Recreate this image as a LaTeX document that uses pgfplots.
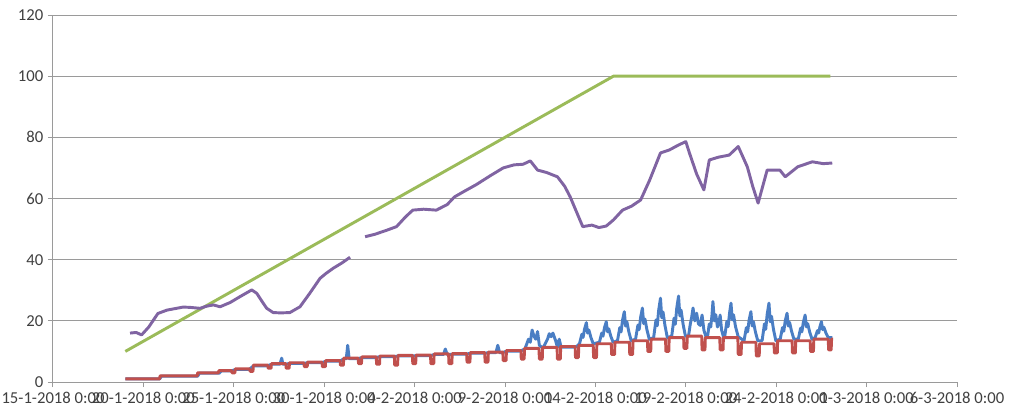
\documentclass[border=0pt]{standalone}
\usepackage{fontspec}
\setmainfont{Carlito}
\usepackage{pgfplots}
\pgfplotsset{compat=1.18}
\definecolor{exblue}{HTML}{4A7EC4}
\definecolor{exred}{HTML}{C0504D}
\definecolor{exgreen}{HTML}{9BBB59}
\definecolor{expurple}{HTML}{8064A2}
\definecolor{gridc}{HTML}{9A9A9A}
\definecolor{txt}{HTML}{404040}

\begin{document}
\begin{tikzpicture}
\begin{axis}[
    at={(0,0)}, anchor=south west,
    scale only axis,
    width=678pt, height=275.25pt,
    xmin=0, xmax=50, ymin=0, ymax=120,
    axis x line*=bottom, axis y line*=left,
    axis line style={gridc, line width=0.75pt},
    xtick={0,5,...,50},
    xticklabels={15-1-2018 0:00,20-1-2018 0:00,25-1-2018 0:00,30-1-2018 0:00,4-2-2018 0:00,9-2-2018 0:00,14-2-2018 0:00,19-2-2018 0:00,24-2-2018 0:00,1-3-2018 0:00,6-3-2018 0:00},
    ytick={0,20,...,120},
    ymajorgrids,
    grid style={gridc, line width=0.75pt},
    tick align=outside,
    major tick length=3.75pt,
    tick style={gridc, line width=0.75pt},
    ticklabel style={font=\fontsize{12.5pt}{14pt}\selectfont, text=txt},
    /pgf/number format/assume math mode=true,
    clip=false,
]
% blue
\addplot[exblue, line width=2.2pt, line join=round] coordinates {
(4,1) (5.9,1) (6,1.9) (8,1.9) (8.1,2.9) (9.2,2.9) (9.3,3.6) (9.85,3.6)
(10.1,4.1) (10.85,4.1) (11.1,5.3) (11.85,5.3) (12.1,5.8) (12.55,5.8) (12.65,7.8) (12.72,5.8) (12.85,5.8)
(13.1,6.1) (13.85,6.1) (14.1,6.3) (14.85,6.3) (15.1,6.8) (15.85,6.8) (16.1,7.6) (16.22,7.6) (16.3,12) (16.38,7.6) (16.85,7.6)
(17.1,8) (17.85,8) (18.1,8.3) (18.85,8.3) (19.1,8.5) (19.85,8.5) (20.1,8.6) (20.85,8.6) (21.1,9) (21.6,9) (21.7,10.8) (21.8,9) (21.85,9)
(22.1,9.1) (22.85,9.1) (23.1,9.4) (23.85,9.4) (24.1,9.6) (24.5,9.6) (24.6,12) (24.7,9.6) (24.85,9.6)
(25.1,10.1) (25.85,10.1) (26.1,10.8) (26.3,14) (26.4,13) (26.5,17) (26.6,15) (26.7,14) (26.8,16.5) (26.9,12)
(27.1,11.1) (27.35,14) (27.45,15.8) (27.55,14.8) (27.65,16) (27.8,13.5) (27.9,11.4) (28.0,14) (28.1,11.4) (28.6,11.4) (28.85,11.4) (29.0,11.8)
(29.12,12.5) (29.25,15.6) (29.32,14.6) (29.4,17.3) (29.5,19.4) (29.57,16) (29.64,17) (29.75,14.6) (29.88,12.5)
(30.22,13) (30.35,16) (30.42,15) (30.5,17.7) (30.6,19.7) (30.67,16.4) (30.74,17.4) (30.85,15) (30.98,13)
(31.22,13.5) (31.35,17.8) (31.42,16.4) (31.5,20.2) (31.6,23) (31.67,18.3) (31.74,19.7) (31.85,16.4) (31.98,13.5)
(32.22,14) (32.35,18.6) (32.42,17.1) (32.5,21.1) (32.6,24.2) (32.67,19.1) (32.74,20.6) (32.85,17.1) (32.98,14)
(33.22,14.5) (33.35,20.3) (33.42,18.4) (33.5,23.5) (33.6,27.4) (33.67,21) (33.74,22.9) (33.85,18.4) (33.98,14.5)
(34.22,15) (34.35,20.9) (34.42,18.9) (34.5,24.2) (34.6,28.1) (34.67,21.6) (34.74,23.5) (34.85,18.9) (34.98,15)
(35.15,15) (35.25,19) (35.32,21) (35.4,24.2) (35.5,20) (35.6,22.5) (35.7,19) (35.8,18.5) (35.9,21.9) (36.0,17) (36.1,15)
(36.2,14.8) (36.3,19) (36.38,18) (36.45,22) (36.5,26.3) (36.58,20) (36.66,22) (36.75,18) (36.82,19) (36.9,21.9) (36.98,17) (37.08,14.8)
(37.15,14.8) (37.27,19.8) (37.34,18.1) (37.42,22.5) (37.5,25.8) (37.57,20.3) (37.64,22) (37.75,18.1) (37.9,14.8)
(38.22,13.5) (38.35,17.8) (38.42,16.4) (38.5,20.2) (38.6,23) (38.67,18.3) (38.74,19.7) (38.85,16.4) (38.98,13.5)
(39.22,13.5) (39.35,19) (39.42,17.2) (39.5,22.1) (39.6,25.8) (39.67,19.7) (39.74,21.5) (39.85,17.2) (39.98,13.5)
(40.22,14) (40.35,17.8) (40.42,16.6) (40.5,20) (40.6,22.5) (40.67,18.3) (40.74,19.5) (40.85,16.6) (40.98,14)
(41.22,14) (41.35,17.6) (41.42,16.4) (41.5,19.5) (41.6,21.9) (41.67,18) (41.74,19.1) (41.85,16.4) (41.98,14)
(42.15,14.5) (42.28,16.8) (42.35,16) (42.42,18.1) (42.5,19.7) (42.57,17.1) (42.64,17.9) (42.75,16) (42.88,14.5) (43.1,14.5)
};
% red
\addplot[exred, line width=2.2pt, line join=round] coordinates {
(4,1) (5.9,1) (5.92,2) (7.98,2) (8.0,3) (9.15,3) (9.17,3.7)
(9.88,3.7) (9.9,3) (10.06,3) (10.08,4.3)
(10.88,4.3) (10.9,3.5) (11.06,3.5) (11.08,5.5)
(11.88,5.5) (11.9,4.5) (12.06,4.5) (12.08,6)
(12.88,6) (12.9,4.5) (13.06,4.5) (13.08,6.3)
(13.88,6.3) (13.9,5) (14.06,5) (14.08,6.5)
(14.88,6.5) (14.9,5) (15.06,5) (15.08,7)
(15.88,7) (15.9,5.5) (16.06,5.5) (16.08,7.8)
(16.88,7.8) (16.9,6) (17.06,6) (17.08,8.2)
(17.88,8.2) (17.9,5.8) (18.06,5.8) (18.08,8.5)
(18.88,8.5) (18.9,5.5) (19.06,5.5) (19.08,8.7)
(19.88,8.7) (19.9,6) (20.06,6) (20.08,8.8)
(20.88,8.8) (20.9,6) (21.06,6) (21.08,9.2)
(21.88,9.2) (21.9,6) (22.06,6) (22.08,9.3)
(22.88,9.3) (22.9,6.5) (23.06,6.5) (23.08,9.6)
(23.88,9.6) (23.9,6.5) (24.06,6.5) (24.08,9.8)
(24.88,9.8) (24.9,7) (25.06,7) (25.08,10.3)
(25.88,10.3) (25.9,7.5) (26.06,7.5) (26.08,11)
(26.88,11) (26.9,7.5) (27.06,7.5) (27.08,11.3)
(27.88,11.3) (27.9,7.5) (28.06,7.5) (28.08,11.6)
(28.88,11.6) (28.9,8) (29.06,8) (29.08,12)
(29.88,12) (29.9,8) (30.06,8) (30.08,12.5)
(30.88,12.5) (30.9,9) (31.06,9) (31.08,13)
(31.88,13) (31.9,9) (32.06,9) (32.08,13.5)
(32.88,13.5) (32.9,10) (33.06,10) (33.08,14)
(33.88,14) (33.9,10) (34.06,10) (34.08,14.5)
(34.88,14.5) (34.9,11) (35.06,11) (35.08,15)
(35.88,15) (35.9,10.5) (36.06,10.5) (36.08,14.5)
(36.88,14.5) (36.9,10.5) (37.06,10.5) (37.08,14.5)
(37.88,14.5) (37.9,9) (38.06,9) (38.08,13)
(38.88,13) (38.9,8.5) (39.06,8.5) (39.08,12.5)
(39.88,12.5) (39.9,9.5) (40.06,9.5) (40.08,13.5)
(40.88,13.5) (40.9,9.5) (41.06,9.5) (41.08,13.5)
(41.88,13.5) (41.9,10) (42.06,10) (42.08,14)
(42.88,14) (42.9,10.5) (43.04,10.5) (43.06,14) (43.15,14)
};
% green
\addplot[exgreen, line width=2.2pt] coordinates {(4,10) (31,100) (43,100)};
% purple
\addplot[expurple, line width=2.2pt, line join=round] coordinates {
(4.26,16) (4.6,16.2) (4.9,15.4) (5.3,18) (5.8,22.4) (6.3,23.5) (6.84,24.1) (7.2,24.5)
(7.58,24.4) (8.13,24.1) (8.5,24.8) (8.87,25.2) (9.24,24.6) (9.8,26) (10.34,27.9) (10.99,30.1)
(11.27,29) (11.6,26) (11.82,24.1) (12.18,22.7) (12.6,22.6) (13.1,22.7) (13.66,24.6) (14.2,29)
(14.77,33.9) (15.1,35.5) (15.5,37.2) (16.0,39) (16.43,40.8)
};
\addplot[expurple, line width=2.2pt, line join=round] coordinates {
(17.26,47.5) (17.8,48.3) (18.4,49.5) (19.0,50.8) (19.5,54) (19.9,56.2) (20.5,56.5) (21.2,56.2)
(21.8,58) (22.2,60.5) (22.7,62.2) (23.4,64.5) (24.2,67.5) (24.9,70) (25.5,71) (26.0,71.2)
(26.4,72.3) (26.8,69.3) (27.3,68.5) (27.9,67.1) (28.3,64) (28.6,60.6) (29.0,55) (29.3,50.8)
(29.8,51.3) (30.2,50.5) (30.6,51) (31.0,53) (31.5,56.2) (32.0,57.5) (32.5,59.5) (33.0,66)
(33.6,74.9) (34.1,75.9) (34.6,77.5) (35.0,78.6) (35.2,74.9) (35.6,68) (36.0,62.8) (36.3,72.6)
(36.8,73.5) (37.4,74.2) (37.9,77) (38.4,70.4) (38.7,64) (39.0,58.5) (39.5,69.3) (40.2,69.3)
(40.5,67.1) (41.2,70.4) (42.0,72) (42.6,71.4) (43.1,71.6)
};
\end{axis}
\pgfresetboundingbox
\path (-39.75pt,-22.5pt) rectangle (717pt,286.5pt);
\end{tikzpicture}
\end{document}
